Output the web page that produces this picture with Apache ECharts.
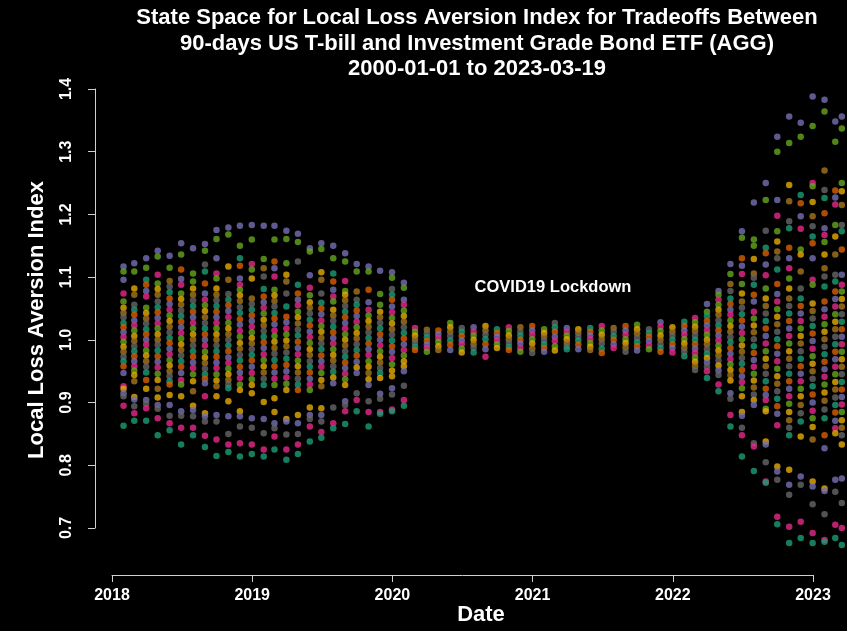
<!DOCTYPE html>
<html>
<head>
<meta charset="utf-8">
<title>State Space for Local Loss Aversion Index</title>
<script src="https://cdn.jsdelivr.net/npm/echarts@6/dist/echarts.min.js"></script>
<style>
  html, body { margin: 0; padding: 0; background: #000; }
  #chart { width: 847px; height: 631px; }
</style>
</head>
<body>
<div id="chart"></div>
<script>
// month-end observation dates
const dates = [
  '2018-01-31', '2018-02-28', '2018-03-31', '2018-04-30', '2018-05-31', '2018-06-30',
  '2018-07-31', '2018-08-31', '2018-09-30', '2018-10-31', '2018-11-30', '2018-12-31',
  '2019-01-31', '2019-02-28', '2019-03-31', '2019-04-30', '2019-05-31', '2019-06-30',
  '2019-07-31', '2019-08-31', '2019-09-30', '2019-10-31', '2019-11-30', '2019-12-31',
  '2020-01-31', '2020-02-29', '2020-03-31', '2020-04-30', '2020-05-31', '2020-06-30',
  '2020-07-31', '2020-08-31', '2020-09-30', '2020-10-31', '2020-11-30', '2020-12-31',
  '2021-01-31', '2021-02-28', '2021-03-31', '2021-04-30', '2021-05-31', '2021-06-30',
  '2021-07-31', '2021-08-31', '2021-09-30', '2021-10-31', '2021-11-30', '2021-12-31',
  '2022-01-31', '2022-02-28', '2022-03-31', '2022-04-30', '2022-05-31', '2022-06-30',
  '2022-07-31', '2022-08-31', '2022-09-30', '2022-10-31', '2022-11-30', '2022-12-31',
  '2023-01-31', '2023-02-28', '2023-03-17'
];

// index values per date (one list per month)
const vals2018 = [
  [1.117, 1.109, 1.096, 1.074, 1.061, 1.051, 1.043, 1.036, 1.027, 1.020, 1.012, 1.004, 0.997, 0.989, 0.981, 0.973, 0.966, 0.958, 0.947, 0.926, 0.922, 0.915, 0.910, 0.895, 0.863],
  [1.122, 1.109, 1.082, 1.072, 1.056, 1.048, 1.040, 1.031, 1.023, 1.015, 1.006, 0.998, 0.990, 0.982, 0.974, 0.966, 0.958, 0.951, 0.944, 0.934, 0.909, 0.905, 0.894, 0.883, 0.871],
  [1.130, 1.115, 1.096, 1.088, 1.078, 1.069, 1.051, 1.043, 1.034, 1.026, 1.017, 1.009, 1.000, 0.992, 0.983, 0.975, 0.966, 0.957, 0.948, 0.936, 0.922, 0.904, 0.898, 0.891, 0.871],
  [1.142, 1.133, 1.104, 1.090, 1.081, 1.072, 1.061, 1.052, 1.044, 1.035, 1.026, 1.018, 1.009, 1.000, 0.992, 0.983, 0.974, 0.965, 0.956, 0.946, 0.936, 0.922, 0.908, 0.896, 0.890, 0.875, 0.848],
  [1.134, 1.115, 1.094, 1.085, 1.076, 1.066, 1.057, 1.048, 1.039, 1.030, 1.021, 1.012, 1.003, 0.995, 0.986, 0.977, 0.968, 0.959, 0.950, 0.942, 0.934, 0.929, 0.912, 0.896, 0.879, 0.867, 0.856],
  [1.154, 1.136, 1.112, 1.097, 1.088, 1.074, 1.065, 1.056, 1.047, 1.038, 1.029, 1.020, 1.011, 1.002, 0.993, 0.984, 0.975, 0.966, 0.957, 0.947, 0.936, 0.929, 0.910, 0.886, 0.879, 0.860, 0.833],
  [1.146, 1.106, 1.093, 1.082, 1.072, 1.063, 1.054, 1.045, 1.036, 1.027, 1.018, 1.009, 1.000, 0.991, 0.982, 0.973, 0.964, 0.955, 0.945, 0.934, 0.918, 0.895, 0.888, 0.878, 0.860, 0.848],
  [1.153, 1.142, 1.120, 1.109, 1.090, 1.074, 1.064, 1.055, 1.046, 1.036, 1.027, 1.018, 1.009, 1.000, 0.991, 0.981, 0.972, 0.963, 0.954, 0.945, 0.938, 0.931, 0.910, 0.883, 0.878, 0.870, 0.847, 0.829],
  [1.175, 1.161, 1.130, 1.106, 1.098, 1.082, 1.072, 1.063, 1.054, 1.045, 1.036, 1.027, 1.018, 1.009, 1.000, 0.991, 0.982, 0.973, 0.964, 0.955, 0.945, 0.935, 0.926, 0.910, 0.880, 0.870, 0.841, 0.815],
  [1.179, 1.168, 1.117, 1.096, 1.073, 1.064, 1.055, 1.046, 1.036, 1.027, 1.018, 1.009, 1.000, 0.991, 0.982, 0.972, 0.963, 0.954, 0.945, 0.936, 0.929, 0.923, 0.902, 0.878, 0.850, 0.833, 0.821],
  [1.182, 1.150, 1.130, 1.118, 1.098, 1.088, 1.080, 1.071, 1.062, 1.052, 1.043, 1.033, 1.024, 1.014, 1.005, 0.995, 0.986, 0.976, 0.967, 0.957, 0.948, 0.939, 0.929, 0.920, 0.886, 0.878, 0.862, 0.835, 0.814],
  [1.183, 1.160, 1.121, 1.112, 1.098, 1.066, 1.057, 1.048, 1.039, 1.030, 1.021, 1.012, 1.003, 0.994, 0.985, 0.976, 0.967, 0.957, 0.947, 0.937, 0.928, 0.915, 0.875, 0.860, 0.833, 0.818]
];
const vals2019 = [
  [1.182, 1.129, 1.114, 1.101, 1.081, 1.069, 1.060, 1.051, 1.042, 1.032, 1.023, 1.014, 1.005, 0.996, 0.987, 0.977, 0.968, 0.958, 0.948, 0.938, 0.928, 0.901, 0.874, 0.851, 0.825, 0.814],
  [1.182, 1.160, 1.125, 1.114, 1.101, 1.080, 1.071, 1.062, 1.053, 1.043, 1.034, 1.025, 1.015, 1.006, 0.997, 0.987, 0.978, 0.968, 0.958, 0.948, 0.938, 0.928, 0.907, 0.885, 0.867, 0.859, 0.846, 0.825],
  [1.174, 1.161, 1.122, 1.104, 1.093, 1.074, 1.053, 1.037, 1.028, 1.018, 1.009, 0.999, 0.990, 0.980, 0.970, 0.960, 0.950, 0.940, 0.930, 0.920, 0.874, 0.870, 0.849, 0.825, 0.809],
  [1.169, 1.156, 1.125, 1.088, 1.074, 1.064, 1.055, 1.045, 1.036, 1.026, 1.016, 1.007, 0.997, 0.987, 0.977, 0.967, 0.958, 0.948, 0.938, 0.929, 0.920, 0.880, 0.867, 0.850, 0.833, 0.818],
  [1.146, 1.141, 1.103, 1.083, 1.071, 1.060, 1.051, 1.042, 1.032, 1.023, 1.013, 1.004, 0.995, 0.985, 0.976, 0.966, 0.957, 0.948, 0.938, 0.929, 0.920, 0.892, 0.880, 0.874, 0.862, 0.838],
  [1.154, 1.145, 1.108, 1.096, 1.074, 1.059, 1.050, 1.041, 1.031, 1.022, 1.013, 1.003, 0.994, 0.985, 0.975, 0.966, 0.957, 0.947, 0.936, 0.926, 0.891, 0.880, 0.870, 0.853, 0.844],
  [1.150, 1.130, 1.106, 1.093, 1.080, 1.069, 1.061, 1.048, 1.039, 1.030, 1.021, 1.012, 1.003, 0.994, 0.985, 0.976, 0.967, 0.958, 0.949, 0.940, 0.931, 0.892, 0.867, 0.859],
  [1.138, 1.125, 1.094, 1.078, 1.072, 1.063, 1.054, 1.045, 1.036, 1.027, 1.018, 1.009, 1.000, 0.991, 0.982, 0.973, 0.964, 0.955, 0.946, 0.937, 0.928, 0.902, 0.896, 0.886, 0.866],
  [1.121, 1.109, 1.077, 1.064, 1.056, 1.047, 1.038, 1.029, 1.020, 1.011, 1.002, 0.993, 0.984, 0.975, 0.965, 0.956, 0.947, 0.915, 0.904, 0.886],
  [1.117, 1.109, 1.080, 1.060, 1.048, 1.039, 1.030, 1.021, 1.012, 1.003, 0.994, 0.985, 0.976, 0.966, 0.957, 0.947, 0.937, 0.928, 0.902, 0.885, 0.862],
  [1.110, 1.073, 1.056, 1.045, 1.036, 1.027, 1.018, 1.009, 1.000, 0.991, 0.982, 0.973, 0.964, 0.955, 0.947, 0.939, 0.914, 0.906, 0.885, 0.882],
  [1.108, 1.099, 1.081, 1.072, 1.064, 1.053, 1.044, 1.035, 1.026, 1.017, 1.008, 0.999, 0.990, 0.981, 0.971, 0.961, 0.951, 0.942, 0.923, 0.913, 0.889, 0.886]
];
const vals2020 = [
  [1.091, 1.083, 1.064, 1.056, 1.047, 1.038, 1.029, 1.020, 1.011, 1.002, 0.993, 0.984, 0.975, 0.966, 0.958, 0.950, 0.927, 0.904, 0.895],
  [1.019, 1.013, 1.007, 1.001, 0.995, 0.989, 0.984],
  [1.016, 1.010, 1.004, 0.998, 0.992, 0.987, 0.981],
  [1.015, 1.009, 1.003, 0.997, 0.990, 0.984],
  [1.027, 1.020, 1.013, 1.006, 0.999, 0.992, 0.984],
  [1.019, 1.013, 1.006, 0.999, 0.993, 0.986, 0.980],
  [1.020, 1.013, 1.007, 1.000, 0.993, 0.987, 0.980],
  [1.022, 1.015, 1.008, 1.001, 0.993, 0.985, 0.973],
  [1.017, 1.011, 1.005, 0.999, 0.993, 0.987],
  [1.020, 1.014, 1.007, 1.001, 0.995, 0.989, 0.984],
  [1.020, 1.013, 1.007, 1.000, 0.994, 0.987, 0.981],
  [1.022, 1.015, 1.008, 1.001, 0.994, 0.986, 0.979]
];
const vals2021 = [
  [1.017, 1.011, 1.005, 0.999, 0.993, 0.987, 0.981],
  [1.027, 1.020, 1.013, 1.005, 0.998, 0.990, 0.983],
  [1.019, 1.013, 1.007, 1.001, 0.995, 0.990, 0.985],
  [1.017, 1.011, 1.005, 0.999, 0.992, 0.985],
  [1.019, 1.013, 1.007, 1.001, 0.995, 0.989, 0.984],
  [1.022, 1.015, 1.008, 1.001, 0.994, 0.986, 0.979],
  [1.019, 1.013, 1.006, 1.000, 0.993, 0.987],
  [1.022, 1.015, 1.008, 1.001, 0.995, 0.988, 0.981],
  [1.024, 1.017, 1.010, 1.003, 0.996, 0.990, 0.983],
  [1.017, 1.011, 1.005, 0.998, 0.991, 0.985],
  [1.028, 1.021, 1.014, 1.007, 1.000, 0.993, 0.987, 0.981],
  [1.020, 1.013, 1.007, 1.000, 0.993, 0.987, 0.980]
];
const vals2022 = [
  [1.029, 1.022, 1.015, 1.008, 1.001, 0.994, 0.987, 0.981, 0.974],
  [1.035, 1.028, 1.021, 1.014, 1.007, 1.000, 0.993, 0.986, 0.979, 0.972, 0.965, 0.958, 0.952],
  [1.057, 1.045, 1.038, 1.030, 1.023, 1.015, 1.008, 1.000, 0.993, 0.985, 0.978, 0.971, 0.964, 0.957, 0.950, 0.939],
  [1.078, 1.072, 1.064, 1.056, 1.048, 1.040, 1.031, 1.023, 1.015, 1.007, 0.999, 0.991, 0.983, 0.975, 0.967, 0.959, 0.951, 0.944, 0.929, 0.918],
  [1.121, 1.105, 1.089, 1.078, 1.066, 1.057, 1.048, 1.040, 1.031, 1.022, 1.013, 1.004, 0.996, 0.987, 0.978, 0.969, 0.961, 0.952, 0.944, 0.935, 0.915, 0.906, 0.880, 0.862],
  [1.173, 1.163, 1.130, 1.118, 1.105, 1.089, 1.074, 1.061, 1.051, 1.041, 1.031, 1.021, 1.011, 1.001, 0.991, 0.981, 0.971, 0.962, 0.952, 0.942, 0.933, 0.923, 0.910, 0.885, 0.879, 0.860, 0.848, 0.814],
  [1.219, 1.160, 1.150, 1.129, 1.106, 1.099, 1.088, 1.072, 1.061, 1.045, 1.034, 1.023, 1.012, 1.001, 0.990, 0.979, 0.968, 0.957, 0.946, 0.935, 0.924, 0.913, 0.904, 0.896, 0.835, 0.830, 0.791],
  [1.250, 1.223, 1.174, 1.147, 1.138, 1.120, 1.103, 1.082, 1.066, 1.054, 1.042, 1.030, 1.018, 1.006, 0.994, 0.982, 0.970, 0.958, 0.946, 0.934, 0.922, 0.912, 0.904, 0.890, 0.886, 0.838, 0.833, 0.805, 0.774, 0.772],
  [1.324, 1.300, 1.223, 1.198, 1.173, 1.157, 1.141, 1.130, 1.112, 1.089, 1.073, 1.061, 1.049, 1.037, 1.025, 1.013, 1.001, 0.990, 0.978, 0.966, 0.954, 0.942, 0.930, 0.918, 0.906, 0.894, 0.882, 0.864, 0.798, 0.790, 0.777, 0.718, 0.706],
  [1.356, 1.314, 1.247, 1.221, 1.189, 1.178, 1.147, 1.130, 1.114, 1.098, 1.082, 1.066, 1.054, 1.042, 1.030, 1.018, 1.006, 0.994, 0.982, 0.970, 0.958, 0.946, 0.934, 0.922, 0.910, 0.898, 0.885, 0.872, 0.860, 0.848, 0.793, 0.769, 0.753, 0.702, 0.676],
  [1.346, 1.324, 1.231, 1.218, 1.197, 1.177, 1.144, 1.136, 1.109, 1.082, 1.066, 1.054, 1.042, 1.030, 1.018, 1.006, 0.994, 0.982, 0.970, 0.958, 0.946, 0.934, 0.922, 0.910, 0.896, 0.883, 0.870, 0.846, 0.782, 0.769, 0.710, 0.684],
  [1.388, 1.341, 1.250, 1.245, 1.220, 1.197, 1.181, 1.165, 1.154, 1.130, 1.096, 1.088, 1.058, 1.046, 1.034, 1.022, 1.010, 0.998, 0.986, 0.974, 0.962, 0.950, 0.938, 0.926, 0.913, 0.900, 0.887, 0.875, 0.861, 0.841, 0.774, 0.766, 0.738, 0.692, 0.676]
];
const vals2023 = [
  [1.383, 1.364, 1.270, 1.239, 1.226, 1.202, 1.178, 1.167, 1.156, 1.136, 1.114, 1.101, 1.085, 1.061, 1.049, 1.037, 1.025, 1.013, 1.001, 0.989, 0.977, 0.965, 0.953, 0.941, 0.929, 0.916, 0.903, 0.889, 0.875, 0.848, 0.827, 0.763, 0.759, 0.722, 0.681, 0.678],
  [1.348, 1.316, 1.238, 1.227, 1.216, 1.183, 1.165, 1.136, 1.104, 1.093, 1.077, 1.065, 1.053, 1.041, 1.029, 1.017, 1.005, 0.993, 0.981, 0.969, 0.957, 0.945, 0.933, 0.921, 0.908, 0.896, 0.884, 0.871, 0.859, 0.851, 0.777, 0.758, 0.705, 0.684],
  [1.356, 1.337, 1.250, 1.237, 1.215, 1.183, 1.173, 1.144, 1.104, 1.088, 1.077, 1.065, 1.053, 1.041, 1.029, 1.017, 1.005, 0.993, 0.981, 0.969, 0.957, 0.945, 0.933, 0.921, 0.909, 0.897, 0.885, 0.872, 0.860, 0.848, 0.833, 0.779, 0.740, 0.700, 0.673]
];

const xTicks = [2018, 2019, 2020, 2021, 2022, 2023];
const yTicks = [0.7, 0.8, 0.9, 1.0, 1.1, 1.2, 1.3, 1.4];

// RColorBrewer Dark2
const dark2 = ['#1B9E77', '#D95F02', '#7570B3', '#E7298A', '#66A61E', '#E6AB02', '#A6761D', '#666666'];
const bottomCols = [dark2[0], dark2[3], dark2[7], dark2[2], dark2[5]];

function decYear(s) {
  const [y, m, d] = s.split('-').map(Number);
  const t0 = Date.UTC(y, 0, 1), t1 = Date.UTC(y + 1, 0, 1);
  return y + (Date.UTC(y, m - 1, d) - t0) / (t1 - t0);
}

function pointColor(i, n, c) {
  if (n > 13) {
    if (i === 0) return dark2[2];
    if (i === 1) return dark2[4];
    const fromEnd = n - 1 - i;
    if (fromEnd < bottomCols.length) return bottomCols[fromEnd];
  }
  return dark2[(i + c * 3) % 8];
}

const columns = [...vals2018, ...vals2019, ...vals2020, ...vals2021, ...vals2022, ...vals2023];
const points = [];
columns.forEach((vals, c) => {
  const x = decYear(dates[c]);
  vals.forEach((v, i) => {
    points.push({ value: [x, v], itemStyle: { color: pointColor(i, vals.length, c) } });
  });
});

const font = '"Liberation Sans", Arial, sans-serif';
const chart = echarts.init(document.getElementById('chart'));

const label = (text, x, y, size, rot) => ({
  type: 'text', x, y, rotation: rot || 0,
  style: { text, textAlign: 'center', textVerticalAlign: 'middle', fill: '#fff', font: 'bold ' + size + 'px ' + font }
});

chart.setOption({
  backgroundColor: '#000',
  animation: false,
  textStyle: { fontFamily: font },
  grid: { left: 112, right: 34, top: 89, bottom: 103, containLabel: false, outerBoundsMode: 'none' },
  xAxis: {
    type: 'value',
    min: xTicks[0],
    max: xTicks[xTicks.length - 1],
    interval: 1,
    offset: 47,
    axisLine: { lineStyle: { color: '#d0d0d0', width: 1 } },
    axisTick: { length: 7, lineStyle: { color: '#d0d0d0' } },
    axisLabel: { color: '#fff', fontWeight: 'bold', fontSize: 16, margin: 13, formatter: v => String(v) },
    splitLine: { show: false }
  },
  yAxis: {
    type: 'value',
    min: yTicks[0],
    max: yTicks[yTicks.length - 1],
    interval: 0.1,
    offset: 17,
    axisLine: { lineStyle: { color: '#d0d0d0', width: 1 } },
    axisTick: { length: 7, lineStyle: { color: '#d0d0d0' } },
    axisLabel: { color: '#fff', fontWeight: 'bold', fontSize: 16, rotate: 90, margin: 20, formatter: v => v.toFixed(1) },
    splitLine: { show: false }
  },
  graphic: [
    label('State Space for Local Loss Aversion Index for Tradeoffs Between', 477, 18, 22),
    label('90-days US T-bill and Investment Grade Bond ETF (AGG)', 477, 44, 22),
    label('2000-01-01 to 2023-03-19', 477, 69, 22),
    label('COVID19 Lockdown', 553, 287, 16.5),
    label('Date', 481, 615, 22),
    label('Local Loss Aversion Index', 37, 320, 22, Math.PI / 2)
  ],
  series: [{
    type: 'scatter',
    symbol: 'circle',
    symbolSize: 6.5,
    clip: false,
    data: points
  }]
});
</script>
</body>
</html>
